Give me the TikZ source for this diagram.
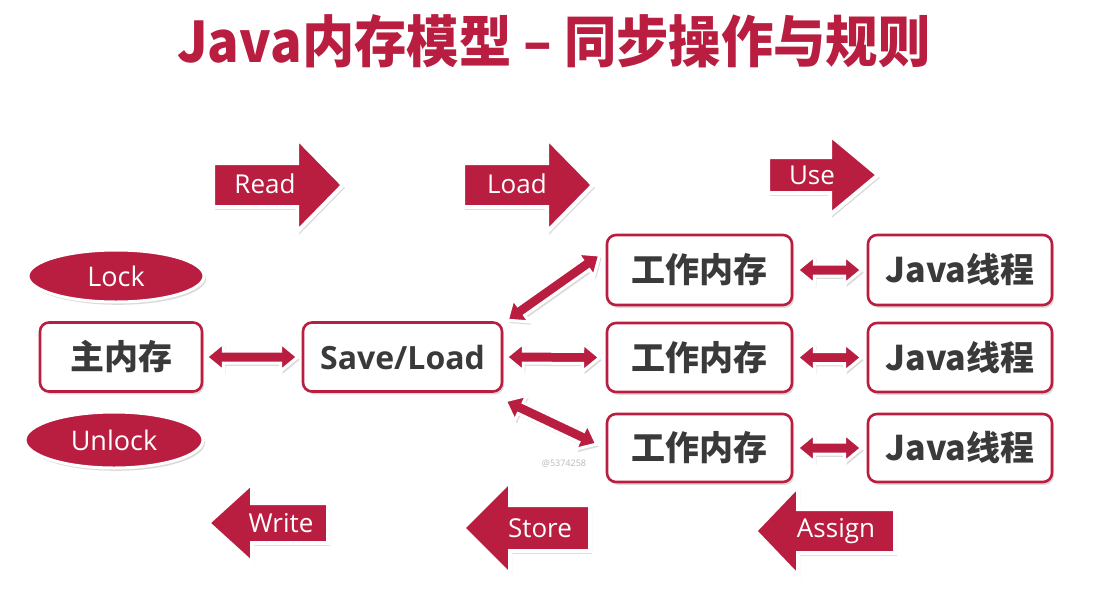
\documentclass[tikz,border=0pt]{standalone}
\usepackage{fontspec}
\setmainfont{Open Sans}
\newfontfamily\cjk{Noto Sans CJK SC}
\usetikzlibrary{calc,shadows,shapes.geometric}
\definecolor{crimson}{RGB}{185,30,64}
\definecolor{ink}{RGB}{58,58,58}
\definecolor{mark}{RGB}{185,185,185}

\tikzset{
  softshadow/.style={drop shadow={opacity=0.28, shadow xshift=2pt, shadow yshift=-2.8pt}},
  membox/.style={draw=crimson, line width=2.6pt, fill=white, rounded corners=9pt,
    minimum height=69pt, inner sep=0pt, text=ink, softshadow,
    font=\cjk\bfseries\fontsize{34}{36}\selectfont},
  blockarrow/.style={fill=crimson, draw=white, line width=4pt, line join=miter, softshadow},
  arrowlabel/.style={text=white, inner sep=0pt, font=\fontsize{26}{28}\selectfont},
  lockoval/.style={ellipse, fill=crimson, draw=white, line width=3pt, inner sep=0pt,
    text=white, font=\fontsize{27}{29}\selectfont, softshadow},
  linkarrowstyle/.style={fill=crimson, draw=white, line width=3pt, line join=miter, softshadow},
}

% block arrow: body start x, head base x, tip x, centre y, half body, half head
\newcommand\blockarrowshape[6]{%
  \filldraw[blockarrow] (#1,#4-#5) -- (#2,#4-#5) -- (#2,#4-#6) -- (#3,#4)
    -- (#2,#4+#6) -- (#2,#4+#5) -- (#1,#4+#5) -- cycle;}

% fat double-headed connector between two points
\newcommand\linkarrow[2]{%
  \path #1 coordinate (la-s) #2 coordinate (la-e);
  \filldraw[linkarrowstyle] (la-s)
    -- ($(la-s)!17pt!(la-e)!14pt!90:(la-e)$)
    -- ($(la-s)!17pt!(la-e)!6pt!90:(la-e)$)
    -- ($(la-e)!17pt!(la-s)!6pt!90:(la-e)$)
    -- ($(la-e)!17pt!(la-s)!14pt!90:(la-e)$)
    -- (la-e)
    -- ($(la-e)!17pt!(la-s)!14pt!-90:(la-e)$)
    -- ($(la-e)!17pt!(la-s)!6pt!-90:(la-e)$)
    -- ($(la-s)!17pt!(la-e)!6pt!-90:(la-e)$)
    -- ($(la-s)!17pt!(la-e)!14pt!-90:(la-e)$)
    -- cycle;}

\begin{document}
\begin{tikzpicture}[x=1pt, y=-1pt]
\useasboundingbox (0,0) rectangle (1105,595);
\fill[white] (0,0) rectangle (1105,595);

% title
\node[text=crimson, font=\cjk\bfseries\fontsize{56}{60}\selectfont, inner sep=0pt]
  (title) at (554,41) {\scalebox{0.935}[1]{Java内存模型 – 同步操作与规则}};

% operation arrows, top row (pointing right)
\blockarrowshape{213}{297}{343}{185}{22}{47}
\node[arrowlabel] (read) at (265,184) {Read};
\blockarrowshape{463}{547}{593}{185}{22}{47}
\node[arrowlabel] (load) at (517,184) {Load};
\blockarrowshape{768}{830}{878}{175}{18}{40}
\node[arrowlabel] (use) at (812,175) {Use};

% operation arrows, bottom row (pointing left)
\blockarrowshape{328}{252}{208}{523}{20}{40}
\node[arrowlabel] (write) at (281,523) {Write};
\blockarrowshape{590}{510}{463}{528}{23}{47}
\node[arrowlabel] (store) at (540,528) {Store};
\blockarrowshape{895}{798}{755}{531}{22}{45}
\node[arrowlabel] (assign) at (836,531) {Assign};

% lock / unlock
\node[lockoval, minimum width=176pt, minimum height=52pt] (lock) at (116,276) {Lock};
\node[lockoval, minimum width=178pt, minimum height=56pt] (unlock) at (114,440) {Unlock};

% memory boxes
\node[membox, minimum width=162pt] (main) at (121,357) {主内存};
\node[membox, minimum width=199pt, font=\bfseries\fontsize{32}{34}\selectfont] (sl) at (402.5,357) {Save/Load};

\node[membox, minimum width=185pt, minimum height=70pt] (w1) at (699.5,270) {工作内存};
\node[membox, minimum width=185pt] (w2) at (699.5,357.5) {工作内存};
\node[membox, minimum width=185pt, minimum height=68pt] (w3) at (699.5,448) {工作内存};

\node[membox, minimum width=184pt, minimum height=70pt] (j1) at (960,270) {Java线程};
\node[membox, minimum width=184pt] (j2) at (960,357.5) {Java线程};
\node[membox, minimum width=184pt, minimum height=68pt] (j3) at (960,448) {Java线程};

% connectors
\linkarrow{($(main.east)+(3,0)$)}{($(sl.west)+(-4,0)$)}
\linkarrow{($(sl.east)+(3,0)$)}{($(w2.west)+(-6,0)$)}
\linkarrow{($(sl.north east)+(4,-1)$)}{($(w1.west)+(-6,-15)$)}
\linkarrow{($(sl.south east)+(2,8)$)}{($(w3.west)+(-9,-4)$)}
\linkarrow{($(w1.east)+(4,0)$)}{($(j1.west)+(-5,0)$)}
\linkarrow{($(w2.east)+(4,0)$)}{($(j2.west)+(-5,0)$)}
\linkarrow{($(w3.east)+(4,0)$)}{($(j3.west)+(-5,0)$)}

% source mark
\node[text=mark, font=\fontsize{9}{10}\selectfont, inner sep=0pt] (srcmark) at (564,464) {@5374258};
\end{tikzpicture}
\end{document}
